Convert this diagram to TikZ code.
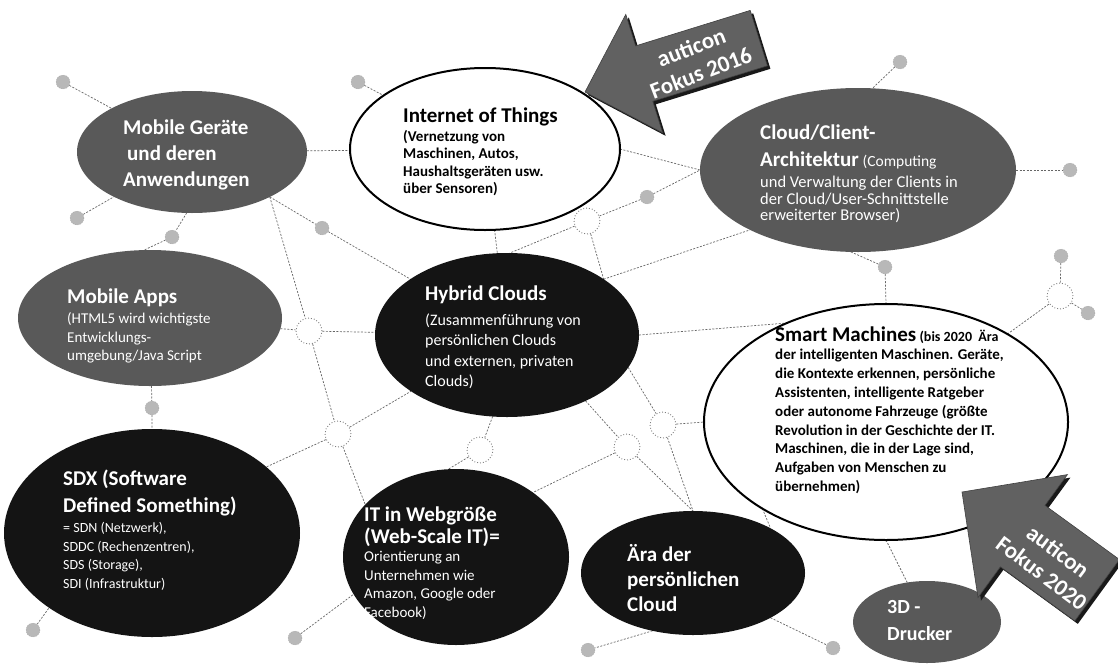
\documentclass[tikz,border=0pt]{standalone}
\usepackage{fontspec}
\setmainfont{Carlito}
\usetikzlibrary{shapes.geometric}
\pgfdeclarelayer{bg}
\pgfsetlayers{bg,main}
\newcommand\nolsk{\lineskiplimit=-100pt\relax}
\begin{document}
\begin{tikzpicture}[x=1pt,y=-1pt,
  el/.style={ellipse, inner sep=0pt, outer sep=0pt},
  grayel/.style={el, fill=black!65},
  blackel/.style={el, fill=black!92},
  whiteel/.style={el, fill=white, draw=black, line width=2pt},
  net/.style={draw=black!60, line width=0.7pt, dash pattern=on 2pt off 1.5pt},
  hub/.style={circle, minimum size=26pt, inner sep=0pt, draw=black!50, line width=0.9pt, dotted, fill=white},
  dot/.style={circle, minimum size=14pt, inner sep=0pt, fill=black!28, draw=black!45, dotted},
  wtxt/.style={text=white, align=left, anchor=west, inner sep=0pt},
  btxt/.style={text=black, align=left, anchor=west, inner sep=0pt},
  arr/.style={fill=black!62, draw=black!75, line width=0.6pt},
  arrshadow/.style={fill=black!90},
  arrtxt/.style={text=white, align=center, inner sep=0pt, font=\fontsize{23}{27}\selectfont\bfseries},
]
\useasboundingbox (0,0) rectangle (1118,664);

% network dots and hubs
\node[dot] (d1) at (63,82) {};
\node[dot] (d2) at (77,218) {};
\node[dot] (d3) at (172,237) {};
\node[dot] (d4) at (322,228) {};
\node[dot] (d5) at (358,82) {};
\node[dot] (d6) at (647,197) {};
\node[dot] (d7) at (900,62) {};
\node[dot] (d8) at (1070,170) {};
\node[dot] (d9) at (885,267) {};
\node[dot] (d10) at (1061,256) {};
\node[dot] (d11) at (1088,313) {};
\node[dot] (d12) at (152,408) {};
\node[dot] (d13) at (33,630) {};
\node[dot] (d14) at (295,638) {};
\node[dot] (d15) at (588,650) {};
\node[dot] (d16) at (833,648) {};
\node[hub] (h1) at (309,331) {};
\node[hub] (h2) at (338,434) {};
\node[hub] (h3) at (480,450) {};
\node[hub] (h4) at (663,425) {};
\node[hub] (h5) at (627,447) {};
\node[hub] (h6) at (587,221) {};
\node[hub] (h7) at (1060,296) {};

% ellipses
\node[grayel, minimum width=230pt, minimum height=122pt] (mg) at (192,152) {};
\node[whiteel, minimum width=270pt, minimum height=162pt] (iot) at (485,149) {};
\node[grayel, minimum width=316pt, minimum height=164pt] (cc) at (858,170) {};
\node[grayel, minimum width=264pt, minimum height=136pt] (ma) at (150,318) {};
\node[blackel, minimum width=264pt, minimum height=164pt] (hy) at (507,335) {};
\node[whiteel, minimum width=364pt, minimum height=236pt] (sm) at (886,422) {};
\node[blackel, minimum width=296pt, minimum height=208pt] (sdx) at (152,533) {};
\node[blackel, minimum width=226pt, minimum height=176pt] (it) at (456,557) {};
\node[blackel, minimum width=224pt, minimum height=124pt] (ara) at (693,573) {};
\node[grayel, minimum width=148pt, minimum height=82pt] (dd) at (927,622) {};

% connectors
\begin{pgfonlayer}{bg}
\fill[white] (0,0) rectangle (1118,664);
\draw[net] (d1) -- (mg);
\draw[net] (d2) -- (mg);
\draw[net] (mg.265) -- (d3) -- (ma.95);
\draw[net] (mg.330) -- (d4) -- (hy);
\draw[net] (mg) -- (iot);
\draw[net] (mg.330) -- (h1);
\draw[net] (d5) -- (iot);
\draw[net] (ma) -- (h1) -- (hy);
\draw[net] (h1) -- (h2);
\draw[net] (h2) -- (hy);
\draw[net] (h2) -- (sdx.30);
\draw[net] (h2) -- (it.150);
\draw[net] (ma) -- (d12) -- (sdx);
\draw[net] (d13) -- (sdx.216);
\draw[net] (d14) -- (it.200);
\draw[net] (hy.260) -- (h3) -- (it.95);
\draw[net] (iot) -- (hy);
\draw[net] (h6) -- (hy.88);
\draw[net] (h6) -- (d6) -- (cc.west);
\draw[net] (h6) -- (hy.30);
\draw[net] (hy.30) -- (cc.209);
\draw[net] (iot.east) -- (cc.west);
\draw[net] (hy.east) -- (sm.135);
\draw[net] (hy.320) -- (h5);
\draw[net] (hy.345) -- (h4);
\draw[net] (h4) -- (sm.180);
\draw[net] (h5) -- (it.40);
\draw[net] (h4) -- (ara.north);
\draw[net] (h5) -- (ara.north);
\draw[net] (sm.215) -- (ara.30);
\draw[net] (cc.265) -- (d9) -- (sm.north);
\draw[net] (d7) -- (cc.80);
\draw[net] (cc.east) -- (d8);
\draw[net] (sm) -- (h7);
\draw[net] (h7) -- (d10);
\draw[net] (h7) -- (d11);
\draw[net] (sm.south) -- (dd);
\draw[net] (ara.235) -- (d15);
\draw[net] (ara.330) -- (d16);
\end{pgfonlayer}

% texts
\node[wtxt, font=\fontsize{21}{26}\selectfont\bfseries\nolsk] (mgt) at (123,154.5)
  {Mobile Geräte\\\hspace*{4pt}und deren\\Anwendungen};
\node[btxt, font=\fontsize{15}{17.5}\selectfont\bfseries\nolsk] (iott) at (403,152)
  {{\fontsize{21}{24}\selectfont Internet of Things}\\[1pt]
   (Vernetzung von\\Maschinen, Autos,\\Haushaltsgeräten usw.\\über Sensoren)};
\node[wtxt, font=\fontsize{16.5}{16.5}\selectfont\nolsk] (cct) at (760,174)
  {{\fontsize{21}{24}\selectfont\bfseries Cloud/Client-}\\[10.5pt]
   {\fontsize{21}{24}\selectfont\bfseries Architektur} {\fontsize{15.5}{16}\selectfont(Computing}\\[4.5pt]
   und Verwaltung der Clients in\\der Cloud/User-Schnittstelle\\erweiterter Browser)};
\node[wtxt, font=\fontsize{15}{18.5}\selectfont\nolsk] (mat) at (67,326)
  {{\fontsize{21}{24}\selectfont\bfseries Mobile Apps}\\[1.5pt]
   (HTML5 wird wichtigste\\Entwicklungs-\\umgebung/Java Script};
\node[wtxt, font=\fontsize{16}{20.5}\selectfont\nolsk] (hyt) at (425,337)
  {{\fontsize{21}{24}\selectfont\bfseries Hybrid Clouds}\\[4.5pt]
   (Zusammenführung von\\persönlichen Clouds\\und externen, privaten\\Clouds)};
\node[btxt, font=\fontsize{15}{18.8}\selectfont\bfseries\nolsk] (smt) at (775,410)
  {{\fontsize{21}{24}\selectfont Smart Machines} {\fontsize{14}{16}\selectfont (bis 2020\ \ Ära}\\
   der intelligenten Maschinen. Geräte,\\die Kontexte erkennen, persönliche\\
   Assistenten, intelligente Ratgeber\\oder autonome Fahrzeuge (größte\\
   Revolution in der Geschichte der IT.\\Maschinen, die in der Lage sind,\\
   Aufgaben von Menschen zu\\übernehmen)};
\node[wtxt, font=\fontsize{14}{18.5}\selectfont\nolsk] (sdxt) at (63,530)
  {{\fontsize{21}{24}\selectfont\bfseries SDX (Software}\\[8.5pt]
   {\fontsize{21}{24}\selectfont\bfseries Defined Something)}\\[1.5pt]
   = SDN (Netzwerk),\\SDDC (Rechenzentren),\\SDS (Storage),\\SDI (Infrastruktur)};
\node[wtxt, font=\fontsize{15}{18.5}\selectfont\nolsk] (itt) at (364,563)
  {{\fontsize{21}{24}\selectfont\bfseries IT in Webgröße}\\[3.5pt]
   {\fontsize{21}{24}\selectfont\bfseries (Web-Scale IT)=}\\
   Orientierung an\\Unternehmen wie\\Amazon, Google oder\\Facebook)};
\node[wtxt, font=\fontsize{21}{25}\selectfont\bfseries\nolsk] (arat) at (627,578)
  {Ära der\\persönlichen\\Cloud};
\node[wtxt, font=\fontsize{20}{27}\selectfont\bfseries\nolsk] (ddt) at (887,621)
  {3D -\\Drucker};

% arrow 2016
\fill[arrshadow] (588,95) -- (628.8,17.4) -- (638.6,48.9) -- (753.2,13.4) -- (770.4,68.8) -- (655.8,104.3) -- (665.6,135.8) -- cycle;
\filldraw[arr] (585,92) -- (625.8,14.4) -- (635.6,45.9) -- (750.2,10.4) -- (767.4,65.8) -- (652.8,101.3) -- (662.6,132.8) -- cycle;
\node[arrtxt, rotate=21] (a16) at (696,60) {auticon\\Fokus 2016};

% arrow 2020
\fill[arrshadow] (965,495) -- (1070.4,477.6) -- (1048,508.4) -- (1122.4,562.5) -- (1077.8,623.9) -- (1003.4,569.8) -- (981,600.6) -- cycle;
\filldraw[arr] (962,492) -- (1067.4,474.6) -- (1045,505.4) -- (1119.4,559.5) -- (1074.8,620.9) -- (1000.4,566.8) -- (978,597.6) -- cycle;
\node[arrtxt, rotate=-37] (a20) at (1050,562) {auticon\\Fokus 2020};
\end{tikzpicture}
\end{document}
